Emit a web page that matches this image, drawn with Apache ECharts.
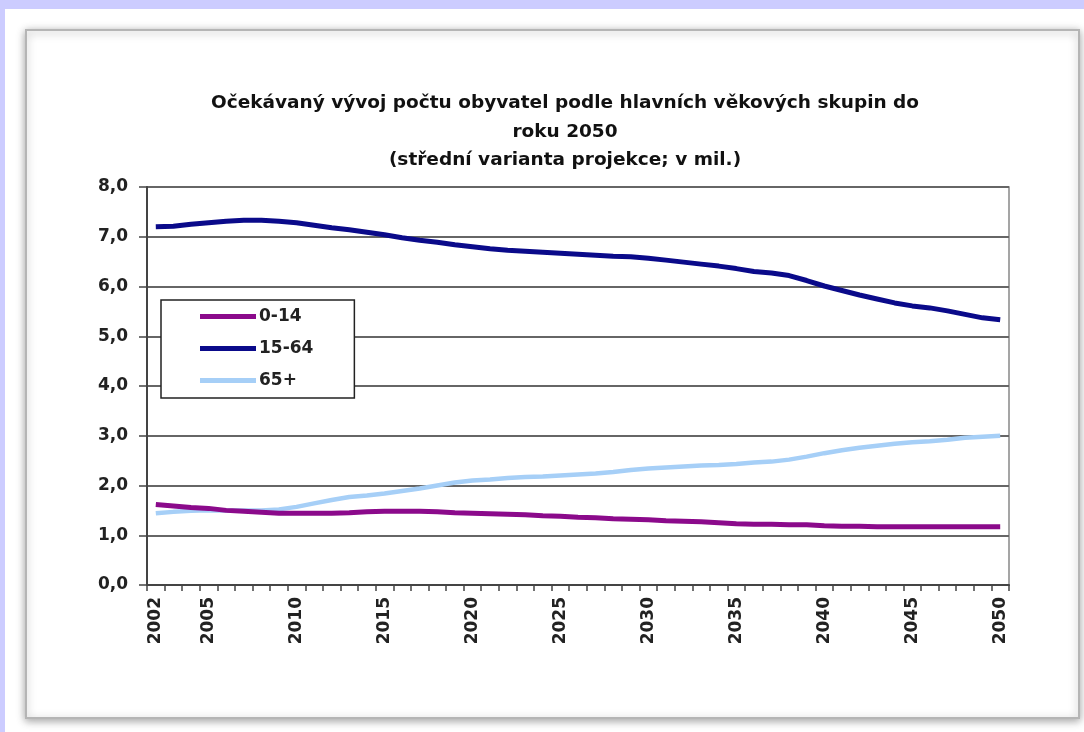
<!DOCTYPE html>
<html>
<head>
<meta charset="utf-8">
<script src="https://cdn.jsdelivr.net/npm/echarts@6/dist/echarts.min.js"></script>
<style>html,body{margin:0;padding:0;background:#fff;}#c{width:1084px;height:732px;}</style>
</head>
<body>
<div id="c"></div>
<script>
const years = [];
for (let y = 2002; y <= 2050; y++) years.push(String(y));
const yTicks = [0,1,2,3,4,5,6,7,8];
const pop0_14 = [1.62,1.59,1.56,1.54,1.50,1.48,1.46,1.44,1.44,1.44,1.44,1.45,1.47,1.48,1.48,1.48,1.47,1.45,1.44,1.43,1.42,1.41,1.39,1.38,1.36,1.35,1.33,1.32,1.31,1.29,1.28,1.27,1.25,1.23,1.22,1.22,1.21,1.21,1.19,1.18,1.18,1.17,1.17,1.17,1.17,1.17,1.17,1.17,1.17];
const pop15_64 = [7.20,7.21,7.25,7.28,7.31,7.33,7.33,7.31,7.28,7.23,7.18,7.14,7.09,7.04,6.98,6.93,6.89,6.84,6.80,6.76,6.73,6.71,6.69,6.67,6.65,6.63,6.61,6.60,6.57,6.53,6.49,6.45,6.41,6.36,6.30,6.27,6.22,6.12,6.01,5.92,5.83,5.75,5.67,5.61,5.57,5.51,5.44,5.37,5.33];
const pop65 = [1.44,1.47,1.49,1.50,1.50,1.50,1.50,1.52,1.57,1.64,1.71,1.77,1.80,1.84,1.89,1.94,2.00,2.06,2.10,2.12,2.15,2.17,2.18,2.20,2.22,2.24,2.27,2.31,2.34,2.36,2.38,2.40,2.41,2.43,2.46,2.48,2.52,2.58,2.65,2.71,2.76,2.80,2.84,2.87,2.89,2.92,2.96,2.98,3.00];
const seriesNames = ['0-14','15-64','65+'];
const titleText = 'Očekávaný vývoj počtu obyvatel podle hlavních věkových skupin do\nroku 2050\n(střední varianta projekce; v mil.)';

const chart = echarts.init(document.getElementById('c'));
const font = '"DejaVu Sans", Arial, sans-serif';
chart.setOption({
  animation: false,
  backgroundColor: '#fff',
  graphic: [
    {type:'rect', z:-10, shape:{x:0,y:0,width:1084,height:9}, style:{fill:'#ccccff'}},
    {type:'rect', z:-10, shape:{x:0,y:0,width:5,height:732}, style:{fill:'#ccccff'}},
    {type:'rect', z:-5, shape:{x:26,y:30,width:1053,height:688}, style:{fill:'#fff', stroke:'#b5b5b5', lineWidth:2, shadowBlur:8, shadowColor:'rgba(0,0,0,0.35)', shadowOffsetX:0, shadowOffsetY:2}}
  ],
  title: {
    text: titleText,
    left: 560, top: 84, textAlign: 'center',
    textStyle: {fontFamily: font, fontWeight: 'bold', fontSize: 18.5, lineHeight: 28.5, color: '#111'}
  },
  legend: {
    orient: 'vertical', left: 161, top: 300,
    data: seriesNames,
    icon: 'rect', itemWidth: 56, itemHeight: 5, itemGap: 15,
    padding: [8, 41, 9, 39],
    borderColor: '#222', borderWidth: 1.5, backgroundColor: '#fff',
    textStyle: {fontFamily: font, fontWeight: 'bold', fontSize: 17, color: '#222', padding:[0,0,0,-2]}
  },
  grid: {left: 147, right: 75, top: 187, bottom: 147, show: true, borderColor: '#888', borderWidth: 1.5},
  xAxis: {
    type: 'category', data: years, boundaryGap: true,
    axisLine: {lineStyle: {color: '#444', width: 2}},
    axisTick: {show: true, interval: 0, length: 6, lineStyle: {color: '#444', width: 1.5}},
    axisLabel: {
      rotate: 90, margin: 12,
      interval: function (i, v) { const y = +v; return y === 2002 || y % 5 === 0; },
      fontFamily: font, fontWeight: 'bold', fontSize: 17, color: '#222'
    },
    splitLine: {show: false}
  },
  yAxis: {
    type: 'value', min: yTicks[0], max: yTicks[yTicks.length-1], interval: 1,
    axisLine: {show: true, lineStyle: {color: '#444', width: 2}},
    axisTick: {show: true, length: 8, lineStyle: {color: '#444', width: 1.5}},
    axisLabel: {margin: 19, fontFamily: font, fontWeight: 'bold', fontSize: 17, color: '#222',
      formatter: v => v.toFixed(1).replace('.', ',')},
    splitLine: {lineStyle: {color: '#666', width: 2}}
  },
  series: [
    {name: seriesNames[2], type: 'line', data: pop65, showSymbol: false, symbol:'none', lineStyle: {color: '#a6cff7', width: 4.5}, itemStyle:{color:'#a6cff7'}, z: 3},
    {name: seriesNames[0], type: 'line', data: pop0_14, showSymbol: false, symbol:'none', lineStyle: {color: '#8b0a8b', width: 5}, itemStyle:{color:'#8b0a8b'}, z: 4},
    {name: seriesNames[1], type: 'line', data: pop15_64, showSymbol: false, symbol:'none', lineStyle: {color: '#0a0a8a', width: 5}, itemStyle:{color:'#0a0a8a'}, z: 5}
  ]
});
</script>
</body>
</html>
